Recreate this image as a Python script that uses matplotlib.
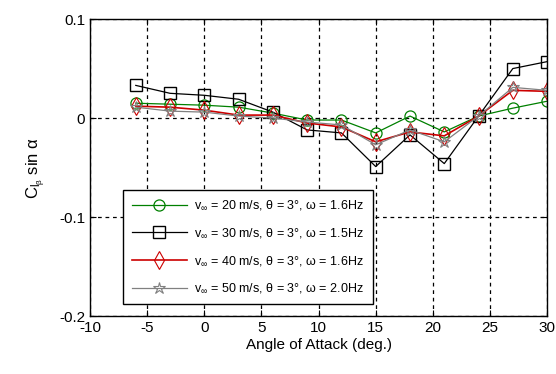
import matplotlib
matplotlib.use('Agg')
import matplotlib.pyplot as plt

plt.rcParams['font.family'] = ['Liberation Sans', 'DejaVu Sans']
plt.rcParams['mathtext.default'] = 'regular'
plt.rcParams['axes.unicode_minus'] = False

# Angle of attack (deg.)
alpha = [-6, -3, 0, 3, 6, 9, 12, 15, 18, 21, 24, 27, 30]

# C_l_beta * sin(alpha) for each test case
v20 = [0.015, 0.014, 0.013, 0.011, 0.005, -0.002, -0.002, -0.015, 0.002, -0.014, 0.002, 0.010, 0.017]
v30 = [0.033, 0.025, 0.023, 0.019, 0.006, -0.012, -0.015, -0.049, -0.017, -0.046, 0.002, 0.050, 0.057]
v40 = [0.012, 0.011, 0.008, 0.003, 0.003, -0.005, -0.009, -0.024, -0.014, -0.018, 0.002, 0.028, 0.027]
v50 = [0.011, 0.007, 0.006, 0.002, 0.000, -0.004, -0.007, -0.027, -0.012, -0.024, 0.002, 0.031, 0.028]

labels = [r'v$_\infty$ = 20 m/s, θ = 3°, ω = 1.6Hz',
          r'v$_\infty$ = 30 m/s, θ = 3°, ω = 1.5Hz',
          r'v$_\infty$ = 40 m/s, θ = 3°, ω = 1.6Hz',
          r'v$_\infty$ = 50 m/s, θ = 3°, ω = 2.0Hz']

fig = plt.figure(figsize=(5.56, 3.74), dpi=100)
ax = fig.add_axes([0.162, 0.155, 0.822, 0.794])

ax.plot(alpha, v20, color='#008000', lw=0.9, marker='o', ms=8, mfc='none', mec='#008000', mew=0.9, label=labels[0])
ax.plot(alpha, v30, color='black', lw=0.9, marker='s', ms=9, mfc='none', mec='black', mew=1.0, label=labels[1])
ax.plot(alpha, v40, color='#cc0000', lw=1.2, marker='d', ms=9, mfc='none', mec='#cc0000', mew=0.8, label=labels[2])
ax.plot(alpha, v50, color='#808080', lw=0.9, marker='*', ms=9, mfc='none', mec='#808080', mew=0.8, label=labels[3])

ax.set_xlim(-10, 30)
ax.set_ylim(-0.2, 0.1)
ax.set_xticks([-10, -5, 0, 5, 10, 15, 20, 25, 30])
ax.set_yticks([-0.2, -0.1, 0, 0.1])
ax.set_yticklabels(['-0.2', '-0.1', '0', '0.1'])
ax.tick_params(direction='in', length=4, labelsize=11, top=True, right=True)
ax.grid(True, color='black', linestyle=(0, (3, 3)), linewidth=0.9)
for s in ax.spines.values():
    s.set_linewidth(1.0)

ax.set_xlabel('Angle of Attack (deg.)', fontsize=11, labelpad=2)
ax.set_ylabel(r'$C_{l_\beta}$ sin $\alpha$', fontsize=12, labelpad=8)

leg = ax.legend(loc='lower left', bbox_to_anchor=(0.072, 0.04), fontsize=9, handlelength=4.4,
                handletextpad=0.6, fancybox=False, edgecolor='black', framealpha=1,
                borderpad=0.7, labelspacing=1.1, borderaxespad=0)
leg.get_frame().set_linewidth(1.0)

fig.savefig('out.png', dpi=100)
